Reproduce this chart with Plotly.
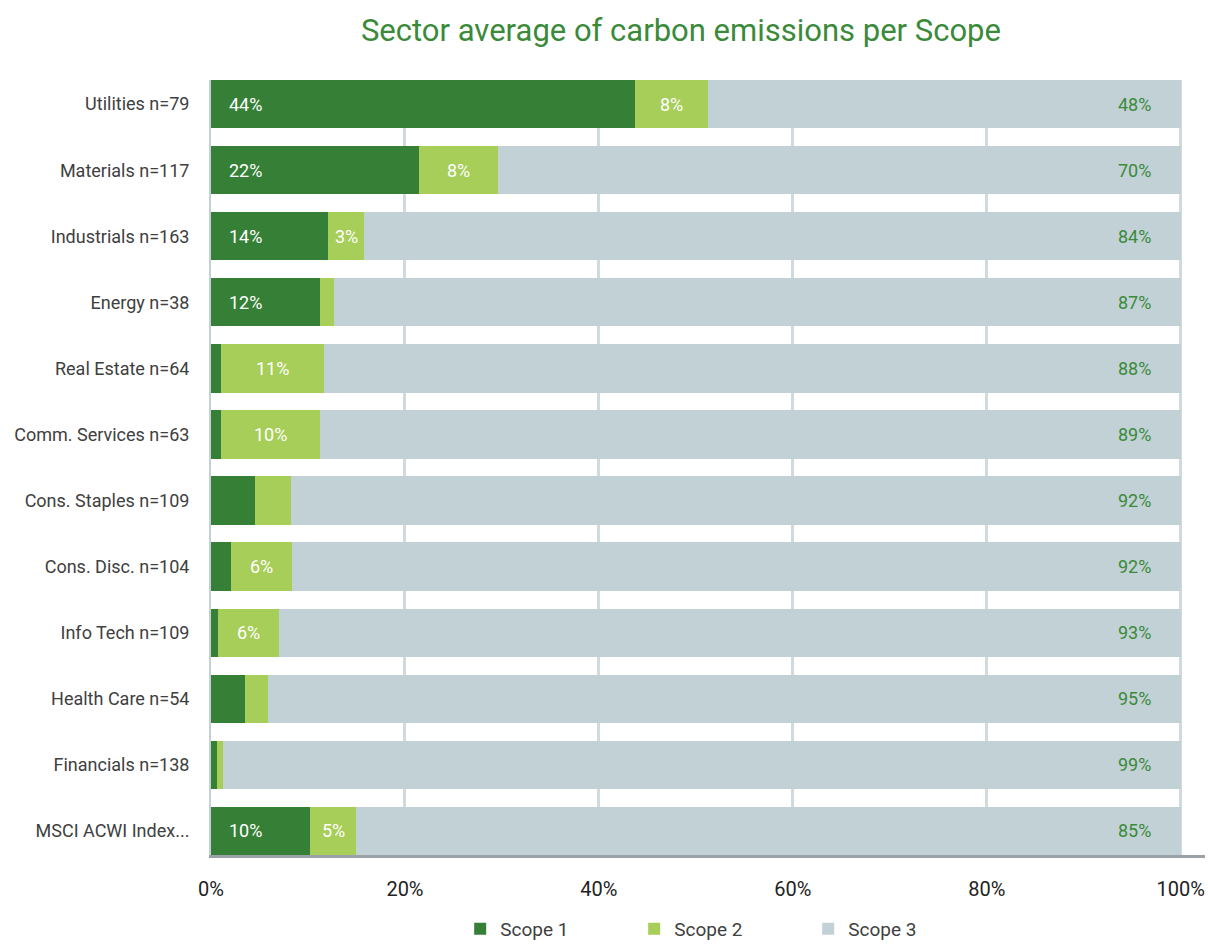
import plotly.graph_objects as go

categories = ["Utilities n=79", "Materials n=117", "Industrials n=163", "Energy n=38",
              "Real Estate n=64", "Comm. Services n=63", "Cons. Staples n=109",
              "Cons. Disc. n=104", "Info Tech n=109", "Health Care n=54",
              "Financials n=138", "MSCI ACWI Index..."]
scope1 = [43.7, 21.4, 12.1, 11.2, 1.0, 1.0, 4.5, 2.1, 0.7, 3.5, 0.6, 10.2]
scope2 = [7.5, 8.2, 3.7, 1.5, 10.7, 10.2, 3.8, 6.3, 6.3, 2.4, 0.6, 4.8]
scope3 = [48.8, 70.4, 84.2, 87.3, 88.3, 88.8, 91.7, 91.6, 93.0, 94.1, 98.8, 85.0]
s1_labels = ["44%", "22%", "14%", "12%", "", "", "", "", "", "", "", "10%"]
s2_labels = ["8%", "8%", "3%", "", "11%", "10%", "", "6%", "6%", "", "", "5%"]
s3_labels = ["48%", "70%", "84%", "87%", "88%", "89%", "92%", "92%", "93%", "95%", "99%", "85%"]
x_ticks = [0, 20, 40, 60, 80, 100]
x_ticktext = ["0%", "20%", "40%", "60%", "80%", "100%"]

C1, C2, C3 = "#367f36", "#a6ce58", "#c2d1d6"
FONT = "Roboto"

fig = go.Figure()
for name, vals, col in [("Scope 1", scope1, C1), ("Scope 2", scope2, C2), ("Scope 3", scope3, C3)]:
    fig.add_trace(go.Bar(y=categories, x=vals, name=name, orientation="h",
                         marker=dict(color=col, line=dict(width=0)),
                         hoverinfo="x+y+name"))

annotations = []
for i, cat in enumerate(categories):
    if s1_labels[i]:
        annotations.append(dict(x=0, y=cat, text=s1_labels[i], xanchor="left", xshift=16,
                                showarrow=False, font=dict(color="white", size=18, family=FONT)))
    if s2_labels[i]:
        annotations.append(dict(x=scope1[i] + scope2[i] / 2, y=cat, text=s2_labels[i],
                                xanchor="center", showarrow=False,
                                font=dict(color="white", size=18, family=FONT)))
    if s3_labels[i]:
        annotations.append(dict(x=97.1, y=cat, text=s3_labels[i], xanchor="right",
                                showarrow=False, font=dict(color="#3a8a3a", size=18, family=FONT)))

fig.update_layout(
    barmode="stack",
    bargap=0.27,
    width=1208, height=945,
    margin=dict(l=211, r=3, t=80, b=90, autoexpand=False),
    paper_bgcolor="white", plot_bgcolor="white",
    font=dict(family=FONT, size=18, color="#404040"),
    title=dict(text="Sector average of carbon emissions per Scope", x=0.5637, xanchor="center",
               xref="container", y=1 - 30 / 945, yanchor="middle", yref="container",
               font=dict(family=FONT, size=31, color="#3a8a3a")),
    xaxis=dict(range=[0, 102.5], tickvals=x_ticks, ticktext=x_ticktext,
               showgrid=True, gridcolor="#d0dadf", gridwidth=3, zeroline=False,
               showline=True, linecolor="#9aa2a8", linewidth=3,
               ticks="", ticklabelstandoff=14,
               tickfont=dict(size=20, color="#222222", family=FONT)),
    yaxis=dict(range=[11.365, -0.365], showgrid=False, zeroline=False,
               showline=True, linecolor="#c3d0d6", linewidth=2, ticks="",
               ticklabelstandoff=16, tickfont=dict(size=18, color="#404040", family=FONT)),
    legend=dict(orientation="h", xref="container", x=0.597, xanchor="center",
                yref="container", y=16 / 945, yanchor="middle", entrywidth=129,
                font=dict(size=19, color="#404040", family=FONT), traceorder="normal"),
    annotations=annotations,
    showlegend=True,
)

fig.write_html("out.html")
